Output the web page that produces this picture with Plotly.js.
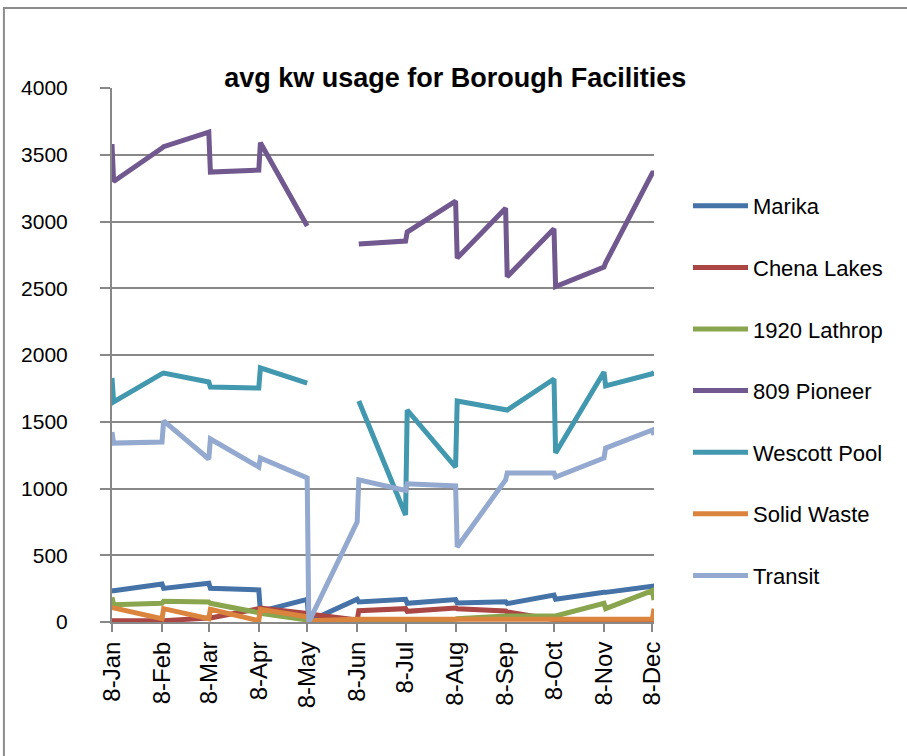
<!DOCTYPE html>
<html>
<head>
<meta charset="utf-8">
<script src="https://cdn.plot.ly/plotly-3.0.1.min.js"></script>
<style>html,body{margin:0;padding:0;background:#fff;}#chart{width:907px;height:756px;}</style>
</head>
<body>
<div id="chart"></div>
<script>
// Reading dates: two readings around the start of each month of 2008
const dates = [
  '2008-01-01','2008-01-02','2008-02-01','2008-02-02','2008-03-01','2008-03-02',
  '2008-04-01','2008-04-02','2008-05-01','2008-05-02','2008-06-01','2008-06-02',
  '2008-07-01','2008-07-02','2008-08-01','2008-08-02','2008-09-01','2008-09-02',
  '2008-10-01','2008-10-02','2008-11-01','2008-11-02','2008-12-01','2008-12-02'
];
const tickDates = ['2008-01-01','2008-02-01','2008-03-01','2008-04-01','2008-05-01','2008-06-01',
  '2008-07-01','2008-08-01','2008-09-01','2008-10-01','2008-11-01','2008-12-01'];
const tickLabels = ['8-Jan','8-Feb','8-Mar','8-Apr','8-May','8-Jun','8-Jul','8-Aug','8-Sep','8-Oct','8-Nov','8-Dec'];

const marika      = [235,235, 285,252, 290,252, 240,80, 170,5, 170,150, 170,140, 168,143, 152,138, 202,170, 222,222, 268,232];
const chenaLakes  = [10,10, 10,10, 30,30, 100,105, 65,60, 15,85, 100,80, 105,100, 82,75, 18,12, 10,10, 10,10];
const lathrop1920 = [185,130, 140,155, 150,140, 70,65, 15,5, 5,5, 5,5, 20,25, 45,45, 45,45, 140,100, 235,165];
const pioneer809  = [3580,3300, 3550,3560, 3670,3370, 3385,3590, 2966,null, null,2831, 2853,2921, 3153,2726, 3100,2587, 2945,2512, 2659,2690, 3363,3363];
const wescottPool = [1828,1648, 1860,1865, 1798,1760, 1753,1903, 1790,null, null,1655, 801,1588, 1161,1655, 1588,1588, 1820,1266, 1873,1768, 1860,1873];
const solidWaste  = [110,105, 25,100, 25,95, 10,95, 40,10, 20,20, 15,15, 15,15, 15,15, 20,20, 20,20, 20,100];
const transit     = [1423,1340, 1348,1506, 1221,1371, 1161,1228, 1079,0, 750,1065, 985,1035, 1019,562, 1064,1116, 1116,1086, 1228,1303, 1438,1400];

const seriesNames  = ['Marika','Chena Lakes','1920 Lathrop','809 Pioneer','Wescott Pool','Solid Waste','Transit'];
const seriesValues = [marika, chenaLakes, lathrop1920, pioneer809, wescottPool, solidWaste, transit];
const seriesColors = ['#4572A7','#AA4643','#89A54E','#71588F','#4198AF','#DB843D','#93A9CF'];

const FONT = 'Liberation Sans, Arial, sans-serif';
const GRID = '#888888';

const traces = seriesNames.map((name, i) => ({
  type: 'scatter', mode: 'lines', name: name,
  x: dates, y: seriesValues[i],
  line: {color: seriesColors[i], width: 5},
  legendgroup: 'g' + i,
  connectgaps: false,
  hoverinfo: 'skip'
}));

const layout = {
  width: 907, height: 756,
  margin: {l: 112, r: 253, t: 88, b: 134, pad: 0},
  paper_bgcolor: '#ffffff', plot_bgcolor: '#ffffff',
  font: {family: FONT, color: '#000000'},
  title: {
    text: '<b>avg kw usage for Borough Facilities</b>',
    font: {family: FONT, size: 27, color: '#000000'},
    xref: 'container', x: 0.502, xanchor: 'center',
    yref: 'container', y: 1 - 78/756, yanchor: 'middle'
  },
  xaxis: {
    type: 'date', range: ['2008-01-01','2008-12-02'],
    tickmode: 'array', tickvals: tickDates, ticktext: tickLabels,
    tickangle: -90, tickfont: {family: FONT, size: 24, color: '#000'},
    ticks: 'outside', ticklen: 8, tickwidth: 2, tickcolor: GRID,
    showline: true, linecolor: GRID, linewidth: 2,
    showgrid: false, zeroline: false, fixedrange: true
  },
  yaxis: {
    range: [0, 4000], dtick: 500, tick0: 0,
    tickfont: {family: FONT, size: 21, color: '#000'},
    ticks: 'outside', ticklen: 10, tickwidth: 2, tickcolor: GRID,
    ticklabelstandoff: 28,
    showline: true, linecolor: GRID, linewidth: 2,
    showgrid: true, gridcolor: GRID, gridwidth: 2,
    zeroline: false, fixedrange: true
  },
  showlegend: true,
  legend: {
    xref: 'container', x: 688/907, xanchor: 'left',
    yref: 'container', y: 1 - 185/756, yanchor: 'top',
    maxheight: 700,
    font: {family: FONT, size: 22, color: '#000'},
    traceorder: 'grouped', tracegroupgap: 30,
    itemwidth: 55, bgcolor: 'rgba(0,0,0,0)', borderwidth: 0
  },
  shapes: [{
    type: 'rect', xref: 'paper', yref: 'paper',
    x0: (4 - 112) / 541.6, x1: 2, y0: -1, y1: (622 - 8) / 534,
    line: {color: '#8c8c8c', width: 2}, fillcolor: 'rgba(0,0,0,0)', layer: 'below'
  }]
};

Plotly.newPlot('chart', traces, layout, {displayModeBar: false, staticPlot: true});
</script>
</body>
</html>
